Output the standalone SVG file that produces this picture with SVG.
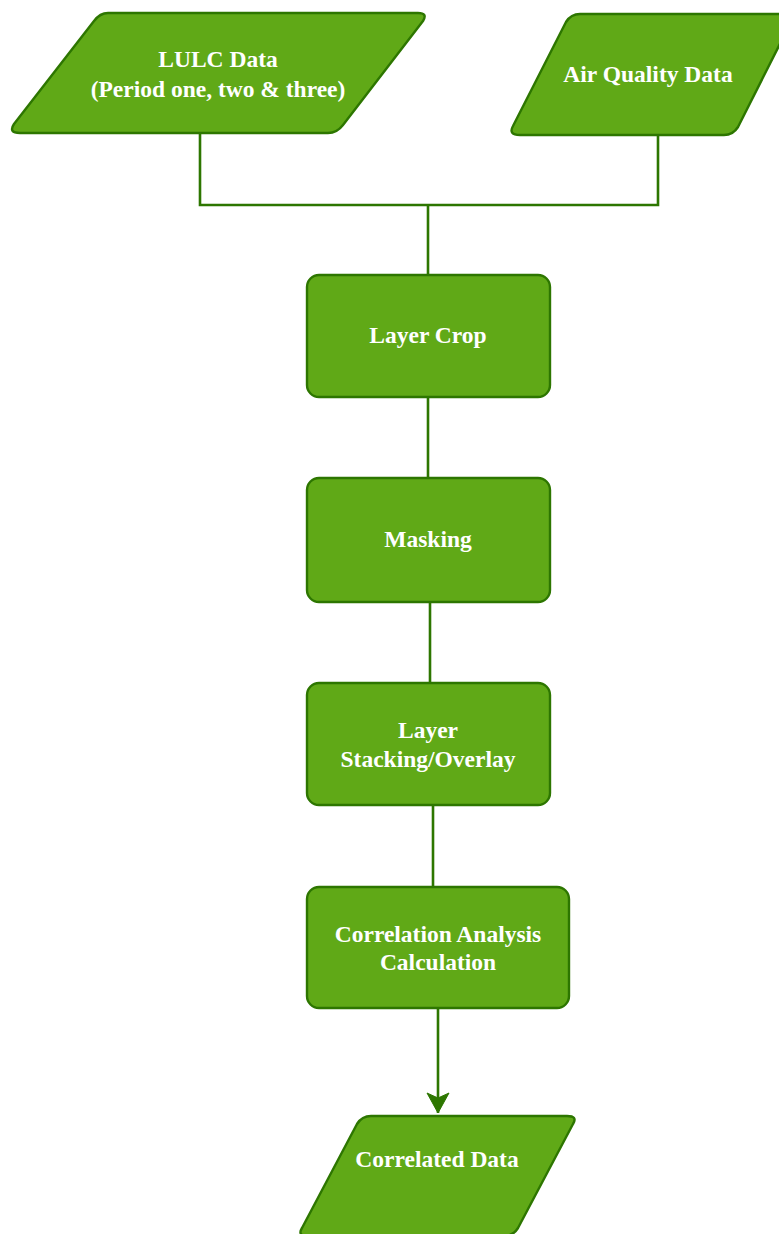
<svg xmlns="http://www.w3.org/2000/svg" width="779" height="1234" viewBox="0 0 779 1234">
  <style>
    .shape { fill: #60a917; stroke: #2d7600; stroke-width: 2.4; stroke-linejoin: round; }
    .label { fill: #ffffff; font-family: "Liberation Serif", "Times New Roman", serif; font-weight: bold; font-size: 23.5px; text-anchor: middle; }
    .wire { fill: none; stroke: #2d7600; stroke-width: 2.6; }
  </style>
  <defs>
    <marker id="arrow" viewBox="0 0 24 24" refX="22" refY="12" markerWidth="24" markerHeight="24" markerUnits="userSpaceOnUse" orient="auto">
      <path d="M2,1 L22,12 L2,23 L7,12 Z" fill="#2d7600" stroke="#2d7600" stroke-width="1"/>
    </marker>
  </defs>

  <!-- connectors -->
  <g id="connectors">
    <path class="wire" d="M200,133 V205 H658 V135"/>
    <path class="wire" d="M428,205 V275"/>
    <path class="wire" d="M428,397 V478"/>
    <path class="wire" d="M430,602 V683"/>
    <path class="wire" d="M433,805 V887"/>
    <path class="wire" d="M438,1008 V1113" marker-end="url(#arrow)"/>
  </g>

  <!-- input: land use / land cover -->
  <g id="lulc-data">
    <path class="shape" d="M108,13 H418 Q428,13 423,21 L343,125 Q337,133 328,133 H20 Q8,133 14,124 L94,21 Q100,13 108,13 Z"/>
    <text class="label" x="218" y="67">LULC Data</text>
    <text class="label" x="218" y="97">(Period one, two &amp; three)</text>
  </g>

  <!-- input: air quality -->
  <g id="air-quality-data">
    <path class="shape" d="M580,14 H786 Q796,14 791,22 L738,127 Q733,135 724,135 H520 Q508,135 513,126 L566,22 Q571,14 580,14 Z"/>
    <text class="label" x="648" y="82">Air Quality Data</text>
  </g>

  <g id="layer-crop">
    <rect class="shape" x="307" y="275" width="243" height="122" rx="12" ry="12"/>
    <text class="label" x="428" y="343">Layer Crop</text>
  </g>

  <g id="masking">
    <rect class="shape" x="307" y="478" width="243" height="124" rx="12" ry="12"/>
    <text class="label" x="428" y="547">Masking</text>
  </g>

  <g id="layer-stacking">
    <rect class="shape" x="307" y="683" width="243" height="122" rx="12" ry="12"/>
    <text class="label" x="428" y="738">Layer</text>
    <text class="label" x="428" y="767">Stacking/Overlay</text>
  </g>

  <g id="correlation-analysis">
    <rect class="shape" x="307" y="887" width="262" height="121" rx="12" ry="12"/>
    <text class="label" x="438" y="942">Correlation Analysis</text>
    <text class="label" x="438" y="970">Calculation</text>
  </g>

  <!-- output -->
  <g id="correlated-data">
    <path class="shape" d="M371,1116 H567 Q578,1116 573,1124 L518,1228 Q513,1236 504,1236 H308 Q297,1236 302,1228 L357,1124 Q362,1116 371,1116 Z"/>
    <text class="label" x="437" y="1167">Correlated Data</text>
  </g>
</svg>
